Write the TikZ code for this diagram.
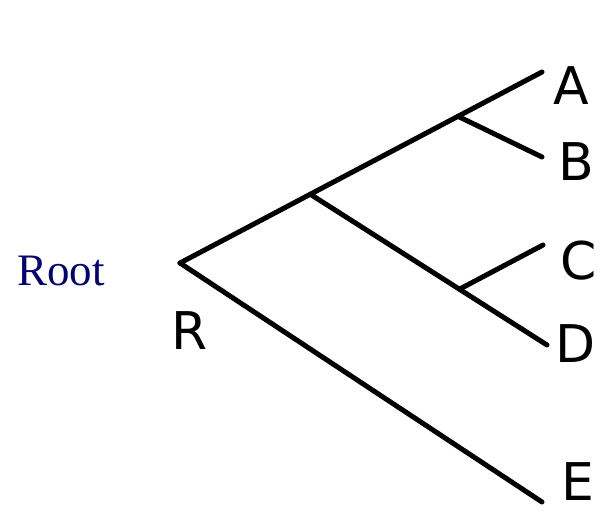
\documentclass[tikz,border=0pt]{standalone}
\usepackage{fontspec}
\setmainfont{Liberation Serif}
\newfontfamily\treefont{DejaVu Sans}
\usepackage{tikz}
\usetikzlibrary{positioning, calc}
\definecolor{rootColor}{RGB}{5, 5, 105}

\begin{document}
\begin{tikzpicture}[
    x=1pt, y=-1pt,
    branch/.style={draw=black, line width=5pt, line cap=round},
    leaf/.style={font=\treefont\fontsize{52}{52}\selectfont, inner sep=0pt, anchor=center},
    caption/.style={font=\fontsize{45}{45}\selectfont, text=rootColor, inner sep=0pt}
]
\useasboundingbox (0,0) rectangle (601,514);

% Points of the tree
\coordinate (r) at (180,263);
\coordinate (a) at (542,72);
\coordinate (ab) at ($(r)!0.768!(a)$);
\coordinate (b) at (542,157);
\coordinate (cd) at ($(r)!0.36!(a)$);
\coordinate (d) at (547,345);
\coordinate (c2) at ($(cd)!0.63!(d)$);
\coordinate (c) at (543,245);
\coordinate (e) at (542,502);

% Labels
\node (rootlabel) [caption] at (61,271) {Root};
\node (rlabel) [leaf] at (190,331) {R};
\node (alabel) [leaf] at (571,86) {A};
\node (blabel) [leaf] at (576,162) {B};
\node (clabel) [leaf] at (579,261) {C};
\node (dlabel) [leaf] at (576,344) {D};
\node (elabel) [leaf] at (578,482) {E};

% Branches
\draw [branch] (r) -- (a);
\draw [branch] (ab) -- (b);
\draw [branch] (cd) -- (d);
\draw [branch] (c2) -- (c);
\draw [branch] (r) -- (e);

\end{tikzpicture}
\end{document}
